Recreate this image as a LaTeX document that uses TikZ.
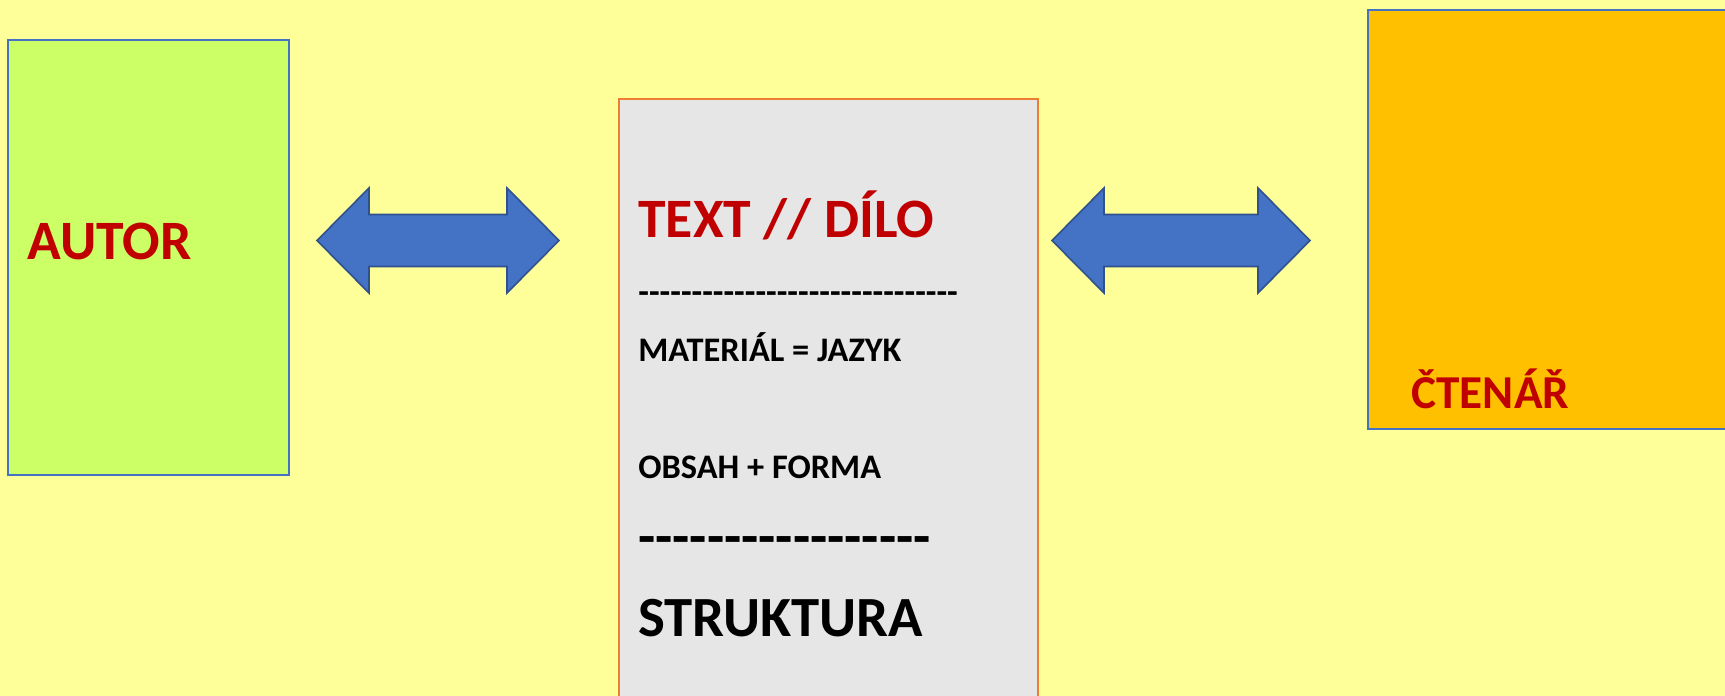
\documentclass[tikz,border=0pt]{standalone}
\usepackage{fontspec}
\setmainfont{Carlito}
\usepackage{tikz}
\usetikzlibrary{calc,positioning}

\definecolor{bgyellow}{HTML}{FFFF99}
\definecolor{autorgreen}{HTML}{CCFF66}
\definecolor{ctenarorange}{HTML}{FFC000}
\definecolor{dilogray}{HTML}{E7E6E6}
\definecolor{titlered}{HTML}{C00000}
\definecolor{arrowblue}{HTML}{4472C4}
\definecolor{arrowedge}{HTML}{2F528F}
\definecolor{diloedge}{HTML}{ED7D31}

\tikzset{box/.style={rectangle, inner sep=0pt, line width=0.8pt},
         label/.style={anchor=base west, inner sep=0pt, font=\bfseries},
         blockarrow/.style={fill=arrowblue, draw=arrowedge, line width=0.8pt, line join=miter}}

% row of single hyphens (no -- ligature)
\newcommand{\hyrow}[1]{\foreach \i in {1,...,#1}{\mbox{-}}}

% double block arrow between two coordinates
\newcommand{\dblarrow}[2]{%
  \draw[blockarrow] (#1) -- ($(#1)+(52,-52.5)$) -- ($(#1)+(52,-26)$)
        -- ($(#2)+(-52,-26)$) -- ($(#2)+(-52,-52.5)$) -- (#2)
        -- ($(#2)+(-52,52.5)$) -- ($(#2)+(-52,26)$)
        -- ($(#1)+(52,26)$) -- ($(#1)+(52,52.5)$) -- cycle;}

\begin{document}
\begin{tikzpicture}[x=0.5pt,y=-0.5pt]
\useasboundingbox (0,0) rectangle (1725,696);
\clip (0,0) rectangle (1725,696);
\fill[bgyellow] (0,0) rectangle (1725,696);

\node[box, draw=arrowblue, fill=autorgreen, minimum width=140.5pt, minimum height=217.5pt] (autor) at (148.5,257.5) {};
\node[box, draw=diloedge, fill=dilogray, minimum width=209.5pt, minimum height=340pt] (dilo) at (828.5,439) {};
\node[box, draw=arrowblue, fill=ctenarorange, minimum width=196pt, minimum height=209.5pt] (ctenar) at (1564,219.5) {};

\node[label, text=titlered, font=\bfseries\fontsize{27.8}{30}\selectfont] (autortext) at (27,259) {AUTOR};
\node[label, text=titlered, font=\bfseries\fontsize{23.6}{26}\selectfont] (ctenartext) at (1411,408) {ČTENÁŘ};

\node[label, text=titlered, font=\bfseries\fontsize{27.8}{30}\selectfont] (dilotext) at (638,237) {TEXT // DÍLO};
\node[label, font=\bfseries\fontsize{17.4}{20}\selectfont] (row1) at (638,303) {\hyrow{30}};
\node[label, font=\bfseries\fontsize{17.2}{19}\selectfont] (material) at (638,361) {MATERIÁL = JAZYK};
\node[label, font=\bfseries\fontsize{17.2}{19}\selectfont] (obsah) at (638,478) {OBSAH + FORMA};
\node[label, font=\bfseries\fontsize{28.1}{31}\selectfont] (row2) at (638,555) {\hyrow{17}};
\node[label, font=\bfseries\fontsize{28.4}{31}\selectfont] (struktura) at (638,636) {STRUKTURA};

\coordinate (la) at (317,240.5);
\coordinate (lb) at (559,240.5);
\coordinate (ra) at (1052,240.5);
\coordinate (rb) at (1310,240.5);
\dblarrow{la}{lb}
\dblarrow{ra}{rb}
\end{tikzpicture}
\end{document}
